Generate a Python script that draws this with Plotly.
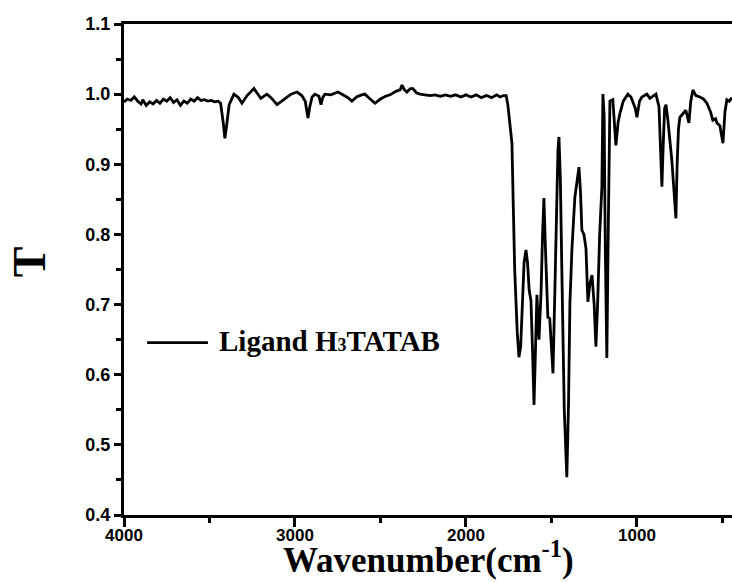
import plotly.graph_objects as go

wavenumber = [
    4000, 3980, 3960, 3940, 3920, 3900, 3890, 3870, 3850, 3830, 3810, 3790, 3770, 3750, 3730,
    3710, 3690, 3670, 3650, 3630, 3610, 3590, 3570, 3550, 3530, 3510, 3490, 3470, 3450, 3435,
    3420, 3410, 3400, 3385, 3357, 3330, 3310, 3280, 3240, 3220, 3200, 3164, 3140, 3105, 3060,
    3023, 2988, 2960, 2940, 2930, 2924, 2915, 2900, 2883, 2860, 2848, 2838, 2825, 2790, 2760,
    2749, 2720, 2690, 2667, 2640, 2610, 2591, 2560, 2532, 2500, 2470, 2444, 2410, 2385, 2374,
    2360, 2345, 2325, 2310, 2290, 2269, 2240, 2210, 2180, 2150, 2120, 2090, 2060, 2030, 2000,
    1970, 1940, 1910, 1880, 1850, 1820, 1800, 1780, 1765, 1755, 1740, 1731, 1725, 1715, 1700,
    1690, 1680, 1670, 1660, 1649, 1640, 1630, 1620, 1610, 1602, 1595, 1585, 1573, 1561, 1552,
    1544, 1535, 1527, 1521, 1510, 1500, 1491, 1480, 1470, 1462, 1456, 1448, 1440, 1433, 1425,
    1410, 1400, 1392, 1380, 1363, 1350, 1339, 1330, 1322, 1310, 1298, 1287, 1275, 1263, 1250,
    1240, 1230, 1218, 1205, 1199, 1192, 1185, 1176, 1168, 1158, 1141, 1130, 1123, 1110, 1099,
    1080, 1053, 1035, 1023, 1010, 1000, 985, 971, 942, 924, 905, 889, 871, 862, 854,
    846, 838, 830, 819, 796, 785, 772, 765, 757, 749, 730, 714, 696, 685, 673,
    655, 632, 610, 591, 570, 556, 540, 532, 515, 497, 485, 474, 460, 444,
]
transmittance = [
    0.989, 0.993, 0.991, 0.996, 0.990, 0.986, 0.992, 0.984, 0.989, 0.986, 0.991, 0.987, 0.993, 0.990, 0.995,
    0.988, 0.992, 0.984, 0.990, 0.987, 0.993, 0.990, 0.995, 0.991, 0.992, 0.990, 0.991, 0.989, 0.990, 0.987,
    0.960, 0.937, 0.955, 0.985, 1.000, 0.995, 0.987, 0.998, 1.008, 1.000, 0.994, 1.000, 0.995, 0.985, 0.993,
    1.000, 1.003, 0.998, 0.990, 0.975, 0.966, 0.980, 0.996, 1.000, 0.997, 0.985, 0.995, 1.000, 0.999, 1.002,
    1.003, 0.999, 0.995, 0.990, 0.996, 0.999, 1.000, 0.993, 0.987, 0.993, 0.997, 0.999, 1.004, 1.006, 1.013,
    1.006, 1.003, 1.008, 1.008, 1.002, 1.000, 0.999, 0.998, 0.999, 0.997, 0.999, 0.997, 0.999, 0.996, 0.999,
    0.996, 0.999, 0.995, 0.998, 0.995, 0.999, 0.996, 0.998, 0.998, 0.985, 0.950, 0.930, 0.860, 0.750, 0.660,
    0.625, 0.640, 0.700, 0.760, 0.778, 0.760, 0.720, 0.706, 0.630, 0.557, 0.620, 0.714, 0.650, 0.716, 0.800,
    0.852, 0.780, 0.700, 0.682, 0.680, 0.630, 0.602, 0.720, 0.850, 0.920, 0.939, 0.880, 0.760, 0.678, 0.550,
    0.454, 0.560, 0.702, 0.780, 0.853, 0.875, 0.896, 0.860, 0.806, 0.800, 0.780, 0.704, 0.730, 0.742, 0.700,
    0.640, 0.700, 0.800, 0.868, 1.000, 0.970, 0.780, 0.624, 0.800, 0.990, 0.992, 0.960, 0.927, 0.960, 0.973,
    0.990, 1.000, 0.996, 0.989, 0.980, 0.967, 0.990, 0.996, 1.000, 0.994, 0.998, 1.000, 0.982, 0.920, 0.868,
    0.930, 0.980, 0.985, 0.963, 0.906, 0.870, 0.823, 0.900, 0.950, 0.967, 0.973, 0.977, 0.959, 0.990, 1.006,
    0.998, 0.996, 0.993, 0.987, 0.975, 0.963, 0.965, 0.959, 0.955, 0.930, 0.975, 0.992, 0.990, 0.995,
]

x_ticks = [4000, 3000, 2000, 1000]
y_ticks = [0.4, 0.5, 0.6, 0.7, 0.8, 0.9, 1.0, 1.1]
series_name = "Ligand H<span style='font-size:18px'>3</span>TATAB"

fig = go.Figure()
fig.add_trace(go.Scatter(
    x=wavenumber, y=transmittance, mode="lines",
    line=dict(color="black", width=2.8),
    name=series_name, showlegend=False,
))

tick_font = dict(family="Liberation Sans, Arial", size=17, color="black", weight="bold")
serif = "Liberation Serif, Times New Roman"

fig.update_layout(
    width=732, height=582,
    margin=dict(l=124, r=0, t=24, b=67),
    paper_bgcolor="white", plot_bgcolor="white",
    xaxis=dict(
        range=[4000, 444], autorange=False,
        tickmode="array", tickvals=x_ticks, ticktext=[str(v) for v in x_ticks],
        ticks="outside", ticklen=9, tickwidth=2.5, tickcolor="black",
        ticklabelstandoff=-6,
        minor=dict(dtick=500, tick0=0, ticks="outside", ticklen=5, tickwidth=2.5, tickcolor="black"),
        showline=True, linecolor="black", linewidth=3, mirror=True,
        showgrid=False, zeroline=False,
        tickfont=tick_font,
    ),
    yaxis=dict(
        range=[0.4, 1.1], autorange=False,
        tickmode="array", tickvals=y_ticks, ticktext=[f"{v:.1f}" for v in y_ticks],
        ticks="outside", ticklen=7, tickwidth=2.5, tickcolor="black",
        minor=dict(dtick=0.05, tick0=0, ticks="outside", ticklen=5, tickwidth=2.5, tickcolor="black"),
        showline=True, linecolor="black", linewidth=3, mirror=False,
        showgrid=False, zeroline=False,
        tickfont=dict(family="Liberation Sans, Arial", size=18, color="black", weight="bold"),
    ),
)

# y-axis title
fig.add_annotation(
    text="T", xref="paper", yref="paper",
    x=-0.156, y=0.515, xanchor="center", yanchor="middle", showarrow=False, textangle=-90,
    font=dict(family=serif, size=46, color="black", weight="bold"),
)

# legend sample (line + label) drawn in paper coordinates
fig.add_shape(type="line", xref="paper", yref="paper",
              x0=0.038, x1=0.138, y0=0.351, y1=0.351,
              line=dict(color="black", width=2.8))
fig.add_annotation(
    text=series_name, xref="paper", yref="paper",
    x=0.153, y=0.355, xanchor="left", yanchor="middle", showarrow=False,
    font=dict(family=serif, size=29, color="black", weight="bold"),
)

fig.add_annotation(
    text="Wavenumber(cm<sup>-1</sup>)", xref="paper", yref="paper",
    x=0.5, y=-0.087, xanchor="center", yanchor="middle", showarrow=False,
    font=dict(family=serif, size=35, color="black", weight="bold"),
)

fig.write_html("out.html")
